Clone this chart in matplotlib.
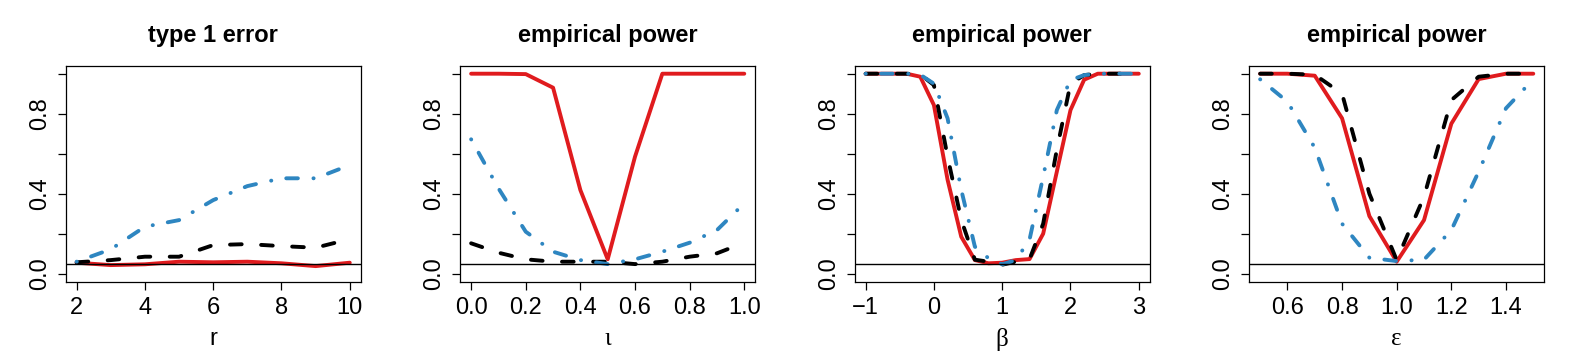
import numpy as np
import matplotlib
matplotlib.use("Agg")
from matplotlib import pyplot as plt

plt.rcParams['font.family'] = ['Liberation Sans', 'DejaVu Sans']

# ---- data ----
r_vals = [2, 3, 4, 5, 6, 7, 8, 9, 10]
r_red = [0.055, 0.043, 0.047, 0.060, 0.057, 0.060, 0.052, 0.038, 0.055]
r_black = [0.057, 0.068, 0.085, 0.085, 0.143, 0.148, 0.138, 0.130, 0.173]
r_blue = [0.060, 0.122, 0.235, 0.268, 0.368, 0.438, 0.477, 0.477, 0.543]

iota_vals = [0.0, 0.1, 0.2, 0.3, 0.4, 0.5, 0.6, 0.7, 0.8, 0.9, 1.0]
iota_red = [1.0, 1.0, 0.998, 0.93, 0.418, 0.072, 0.585, 1.0, 1.0, 1.0, 1.0]
iota_black = [0.152, 0.105, 0.072, 0.060, 0.060, 0.060, 0.048, 0.060, 0.085, 0.102, 0.155]
iota_blue = [0.672, 0.427, 0.210, 0.110, 0.068, 0.048, 0.072, 0.110, 0.155, 0.218, 0.352]

beta_vals = [-1.0, -0.8, -0.6, -0.4, -0.2, 0.0, 0.2, 0.4, 0.6, 0.8, 1.0,
             1.2, 1.4, 1.6, 1.8, 2.0, 2.2, 2.4, 2.6, 2.8, 3.0]
beta_red = [1.0, 1.0, 1.0, 1.0, 0.985, 0.843, 0.47, 0.185, 0.068, 0.052, 0.055,
            0.068, 0.073, 0.20, 0.51, 0.818, 0.97, 1.0, 1.0, 1.0, 1.0]
beta_black = [1.0, 1.0, 1.0, 1.0, 0.997, 0.943, 0.585, 0.27, 0.07, 0.06, 0.045,
              0.06, 0.072, 0.25, 0.62, 0.95, 0.993, 1.0, 1.0, 1.0, 1.0]
beta_blue = [1.0, 1.0, 1.0, 1.0, 0.995, 0.95, 0.777, 0.42, 0.135, 0.077, 0.047,
             0.068, 0.17, 0.485, 0.818, 0.968, 0.993, 1.0, 1.0, 1.0, 1.0]

eps_vals = [0.5, 0.6, 0.7, 0.8, 0.9, 1.0, 1.1, 1.2, 1.3, 1.4, 1.5]
eps_red = [1.0, 1.0, 0.99, 0.777, 0.288, 0.06, 0.268, 0.75, 0.973, 1.0, 1.0]
eps_black = [1.0, 1.0, 0.995, 0.90, 0.40, 0.068, 0.385, 0.868, 0.985, 1.0, 1.0]
eps_blue = [0.972, 0.86, 0.63, 0.25, 0.08, 0.063, 0.07, 0.218, 0.51, 0.827, 0.972]

titles = ['type 1 error', 'empirical power', 'empirical power', 'empirical power']
xlabels = ['r', 'ι', 'β', 'ε']
xticks = [[2, 4, 6, 8, 10], [0.0, 0.2, 0.4, 0.6, 0.8, 1.0],
          [-1, 0, 1, 2, 3], [0.6, 0.8, 1.0, 1.2, 1.4]]
xticklabels = [['2', '4', '6', '8', '10'],
               ['0.0', '0.2', '0.4', '0.6', '0.8', '1.0'],
               ['\u22121', '0', '1', '2', '3'],
               ['0.6', '0.8', '1.0', '1.2', '1.4']]
yticks = [0.0, 0.2, 0.4, 0.6, 0.8, 1.0]
yticklabels = ['0.0', '', '0.4', '', '0.8', '']
alpha_level = 0.05

panels = [(r_vals, r_red, r_black, r_blue),
          (iota_vals, iota_red, iota_black, iota_blue),
          (beta_vals, beta_red, beta_black, beta_blue),
          (eps_vals, eps_red, eps_black, eps_blue)]

RED = '#E01B1E'
BLUE = '#2E86C1'
LW = 2.8

W, H = 1578, 364
fig = plt.figure(figsize=(W / 100, H / 100), dpi=100)

for i, (x, red, black, blue) in enumerate(panels):
    left = 65.7 + i * 394.5
    ax = fig.add_axes([left / W, 82.3 / H, 295 / W, 216 / H])
    ax.plot(x, red, color=RED, lw=LW, solid_capstyle='round', solid_joinstyle='round')
    ax.plot(x, black, color='black', lw=LW, dashes=(3, 5),
            dash_capstyle='round', dash_joinstyle='round')
    ax.plot(x, blue, color=BLUE, lw=LW, dashes=(0.05, 3.9, 3, 4),
            dash_capstyle='round', dash_joinstyle='round')
    ax.axhline(alpha_level, color='black', lw=1)

    xmin, xmax = min(x), max(x)
    span = xmax - xmin
    ax.set_xlim(xmin - 0.04 * span, xmax + 0.04 * span)
    ax.set_ylim(-0.04, 1.04)

    ax.set_xticks(xticks[i])
    ax.set_xticklabels(xticklabels[i])
    ax.set_yticks(yticks)
    ax.set_yticklabels(yticklabels)
    for lbl in ax.get_yticklabels():
        lbl.set_rotation(90)
        lbl.set_va('center')
    ax.tick_params(axis='both', length=5.8, width=0.9, labelsize=17, direction='out')
    ax.tick_params(axis='x', pad=5)
    ax.tick_params(axis='y', pad=5)
    for sp in ax.spines.values():
        sp.set_linewidth(0.9)

    ax.set_title(titles[i], fontsize=17, fontweight='bold', pad=17)
    if i == 0:
        ax.set_xlabel(xlabels[i], fontsize=17, labelpad=7)
    else:
        ax.set_xlabel(xlabels[i], fontsize=18, labelpad=7,
                      family=['Liberation Serif', 'DejaVu Serif'])

fig.savefig('out.png', dpi=100)
